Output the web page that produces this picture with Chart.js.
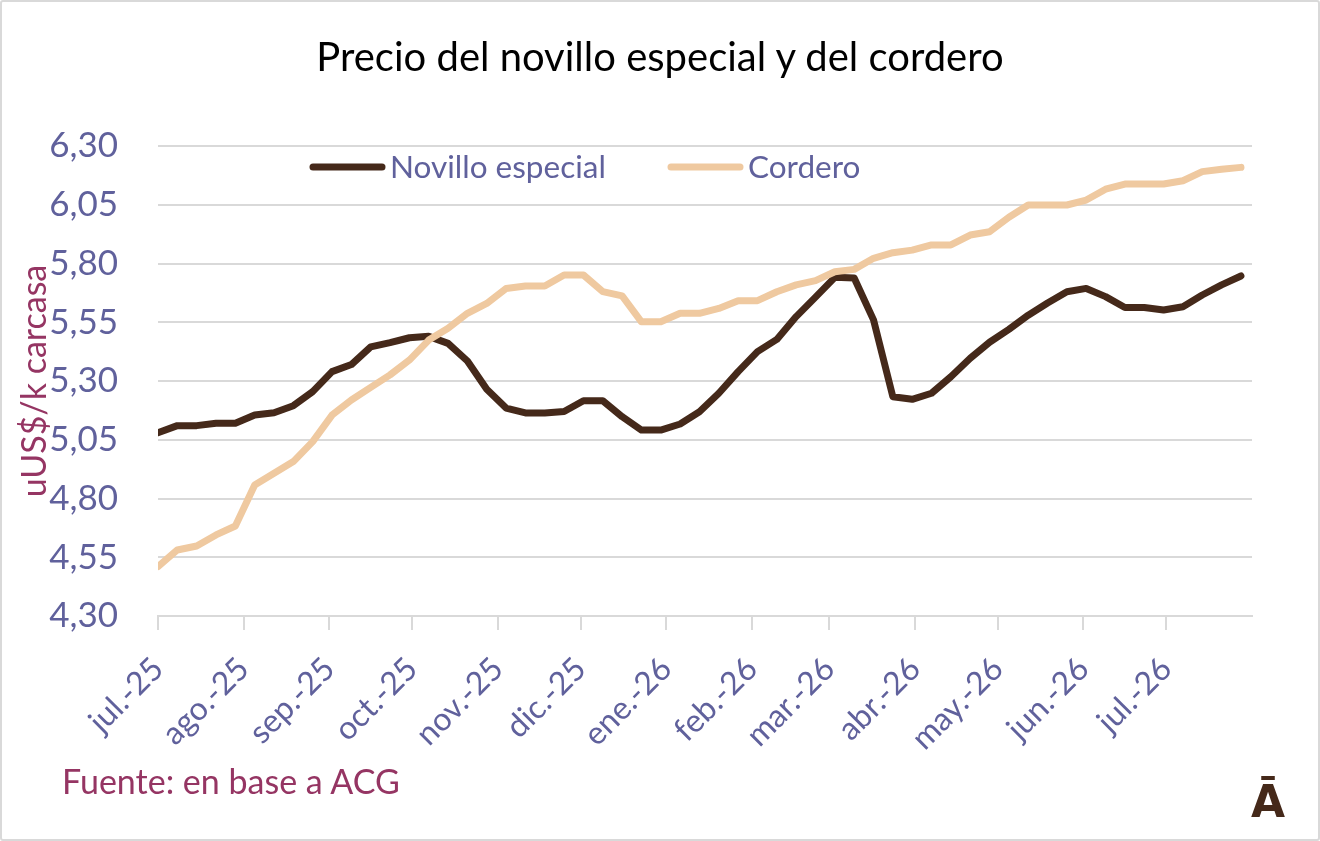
<!DOCTYPE html>
<html lang="es">
<head>
<meta charset="utf-8">
<title>Precio del novillo especial y del cordero</title>
<script src="https://cdn.jsdelivr.net/npm/chart.js@4.4.1/dist/chart.umd.min.js"></script>
<style>
  html, body { margin: 0; padding: 0; background: #fff; }
  #lienzo { position: absolute; left: 0; top: 0; width: 1320px; height: 841px; }
  #borde { position: absolute; left: 0; top: 0; width: 1320px; height: 841px; box-sizing: border-box;
           border: 2px solid #d9d9d9; border-radius: 3px; pointer-events: none; }
  .titulo { position: absolute; left: 0; top: 32px; width: 1320px; text-align: center;
            font: 40px/48px Lato, sans-serif; color: #000; }
  .fuente { position: absolute; left: 62px; top: 760px; font: 34px/42px Lato, sans-serif; color: #953563; }
  .logo { position: absolute; left: 1251px; top: 776px; font: bold 44px/52px "DejaVu Sans", sans-serif; color: #45291a; }
</style>
</head>
<body>
<div id="lienzo"><canvas id="grafico" width="1320" height="841"></canvas></div>
<div id="borde"></div>
<div class="titulo">Precio del novillo especial y del cordero</div>
<div class="fuente">Fuente: en base a ACG</div>
<div class="logo">Ā</div>

<script>
// fechas semanales (inicio de semana)
const semanas = [
  '2025-07-01', '2025-07-08', '2025-07-15', '2025-07-22', '2025-07-29',
  '2025-08-05', '2025-08-12', '2025-08-19', '2025-08-26',
  '2025-09-02', '2025-09-09', '2025-09-16', '2025-09-23', '2025-09-30',
  '2025-10-07', '2025-10-14', '2025-10-21', '2025-10-28',
  '2025-11-04', '2025-11-11', '2025-11-18', '2025-11-25',
  '2025-12-02', '2025-12-09', '2025-12-16', '2025-12-23', '2025-12-30',
  '2026-01-06', '2026-01-13', '2026-01-20', '2026-01-27',
  '2026-02-03', '2026-02-10', '2026-02-17', '2026-02-24',
  '2026-03-03', '2026-03-10', '2026-03-17', '2026-03-24', '2026-03-31',
  '2026-04-07', '2026-04-14', '2026-04-21', '2026-04-28',
  '2026-05-05', '2026-05-12', '2026-05-19', '2026-05-26',
  '2026-06-02', '2026-06-09', '2026-06-16', '2026-06-23', '2026-06-30',
  '2026-07-07', '2026-07-14', '2026-07-21', '2026-07-28'
];

// US$/kg carcasa
const novillo = [
  5.08, 5.11, 5.11, 5.12, 5.12,
  5.155, 5.165, 5.195, 5.255,
  5.34, 5.37, 5.445, 5.463, 5.484,
  5.49, 5.46, 5.385, 5.265,
  5.185, 5.164, 5.164, 5.17,
  5.216, 5.216, 5.148, 5.091, 5.091,
  5.117, 5.169, 5.248, 5.34,
  5.425, 5.477, 5.574, 5.657,
  5.741, 5.738, 5.56, 5.233, 5.222,
  5.248, 5.318, 5.397, 5.465,
  5.52, 5.58, 5.632, 5.68,
  5.694, 5.659, 5.613, 5.613, 5.602,
  5.616, 5.666, 5.709, 5.747
];

const cordero = [
  4.51, 4.581, 4.598, 4.645, 4.683,
  4.857, 4.907, 4.957, 5.042,
  5.155, 5.219, 5.273, 5.326, 5.389,
  5.474, 5.524, 5.588, 5.63,
  5.694, 5.704, 5.704, 5.751,
  5.751, 5.68, 5.662, 5.552, 5.552,
  5.588, 5.588, 5.609, 5.642,
  5.642, 5.68, 5.709, 5.727,
  5.765, 5.775, 5.822, 5.846, 5.857,
  5.879, 5.879, 5.921, 5.935,
  5.997, 6.049, 6.049, 6.049,
  6.07, 6.116, 6.138, 6.138, 6.138,
  6.152, 6.191, 6.201, 6.209
];

const meses = ['jul.-25', 'ago.-25', 'sep.-25', 'oct.-25', 'nov.-25', 'dic.-25', 'ene.-26',
               'feb.-26', 'mar.-26', 'abr.-26', 'may.-26', 'jun.-26', 'jul.-26'];
const inicioMes = ['2025-07-01', '2025-08-01', '2025-09-01', '2025-10-01', '2025-11-01', '2025-12-01', '2026-01-01',
                   '2026-02-01', '2026-03-01', '2026-04-01', '2026-05-01', '2026-06-01', '2026-07-01'];
const finEje = '2026-08-01';

const yTicks = [4.30, 4.55, 4.80, 5.05, 5.30, 5.55, 5.80, 6.05, 6.30];

const colorTexto = '#60619c';
const colorTitulo = '#953563';

// días desde el inicio del eje
const dia = (s) => (Date.parse(s + 'T00:00:00Z') - Date.parse(inicioMes[0] + 'T00:00:00Z')) / 86400000;
const diasSemana = semanas.map(dia);
const diasMes = inicioMes.map(dia);

// leyenda dentro del área del gráfico
const leyendaX = [310, 668];
const leyendaPlugin = {
  id: 'leyenda',
  afterDraw(chart) {
    const ctx = chart.ctx;
    const y = chart.chartArea.top + 21;
    ctx.save();
    ctx.font = '31.5px Lato';
    ctx.textBaseline = 'middle';
    chart.data.datasets.forEach((ds, i) => {
      const x = leyendaX[i];
      ctx.strokeStyle = ds.borderColor;
      ctx.lineWidth = 7;
      ctx.lineCap = 'round';
      ctx.beginPath();
      ctx.moveTo(x + 3, y);
      ctx.lineTo(x + 72, y);
      ctx.stroke();
      ctx.fillStyle = colorTexto;
      ctx.fillText(ds.label, x + 80, y + 1);
    });
    ctx.restore();
  }
};

const ctx = document.getElementById('grafico').getContext('2d');
new Chart(ctx, {
  type: 'line',
  data: {
    datasets: [
      {
        label: 'Novillo especial',
        data: novillo.map((v, i) => ({ x: diasSemana[i], y: v })),
        borderColor: '#45291a',
        borderWidth: 7,
        order: 1
      },
      {
        label: 'Cordero',
        data: cordero.map((v, i) => ({ x: diasSemana[i], y: v })),
        borderColor: '#efc9a0',
        borderWidth: 7,
        order: 0
      }
    ]
  },
  options: {
    responsive: false,
    animation: false,
    layout: { padding: { left: 0, right: 68, top: 146, bottom: 0 } },
    elements: {
      point: { radius: 0 },
      line: { tension: 0, borderJoinStyle: 'round', borderCapStyle: 'round' }
    },
    plugins: {
      legend: { display: false },
      tooltip: { enabled: false },
      title: { display: false }
    },
    scales: {
      x: {
        type: 'linear',
        min: 0,
        max: dia(finEje),
        afterBuildTicks: (ax) => { ax.ticks = diasMes.map(v => ({ value: v })); },
        afterFit: (ax) => { ax.height = 225; },
        ticks: {
          autoSkip: false,
          minRotation: 45,
          maxRotation: 45,
          color: colorTexto,
          font: { family: 'Lato', size: 32 },
          padding: 20,
          callback: (v, i) => meses[i]
        },
        grid: { drawOnChartArea: false, color: '#d9d9d9', lineWidth: 2, tickLength: 14 },
        border: { color: '#d9d9d9', width: 2 }
      },
      y: {
        min: 4.30,
        max: 6.30,
        afterBuildTicks: (ax) => { ax.ticks = yTicks.map(v => ({ value: v })); },
        afterFit: (ax) => { ax.width = 158; },
        ticks: {
          color: colorTexto,
          font: { family: 'Lato', size: 35 },
          padding: 40,
          callback: (v) => Number(v).toFixed(2).replace('.', ',')
        },
        grid: { color: '#d9d9d9', lineWidth: 2, drawTicks: false },
        border: { display: false },
        title: {
          display: true,
          text: 'uUS$/k carcasa',
          color: colorTitulo,
          font: { family: 'Lato', size: 34 },
          padding: { top: 15, bottom: 0 }
        }
      }
    }
  },
  plugins: [leyendaPlugin]
});
</script>
</body>
</html>
